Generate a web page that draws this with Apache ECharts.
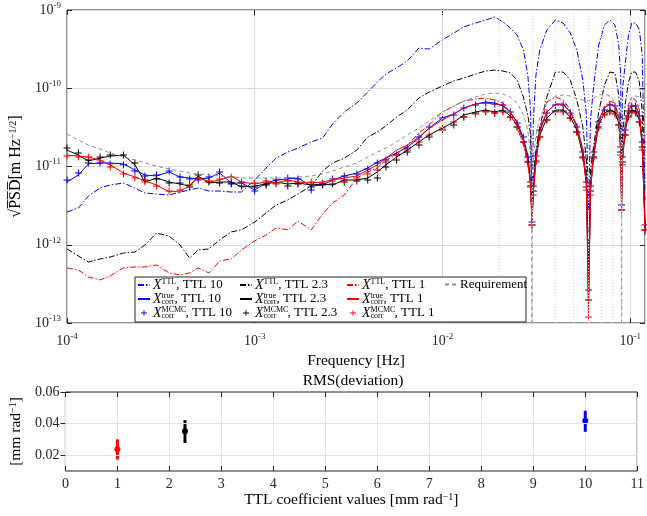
<!DOCTYPE html>
<html><head><meta charset="utf-8">
<script src="https://cdn.jsdelivr.net/npm/echarts@6/dist/echarts.min.js"></script>
<style>html,body{margin:0;padding:0;background:#fff}#c{width:647px;height:516px}</style>
</head><body><div id="c"></div>
<script>
// ---------- data ----------
const freq = [1.0e-4,1.15e-4,1.3e-4,1.5e-4,1.7e-4,2.0e-4,2.3e-4,2.6e-4,3.0e-4,3.5e-4,
4.0e-4,4.5e-4,5.0e-4,5.7e-4,6.5e-4,7.5e-4,8.5e-4,1.0e-3,1.15e-3,1.3e-3,
1.5e-3,1.7e-3,2.0e-3,2.3e-3,2.6e-3,3.0e-3,3.5e-3,4.0e-3,4.5e-3,5.0e-3,
5.7e-3,6.5e-3,7.5e-3,8.5e-3,1.0e-2,1.15e-2,1.3e-2,1.5e-2,1.7e-2,1.9e-2,
2.1e-2,2.3e-2,2.5e-2,2.7e-2,2.85e-2,2.95e-2,3.0e-2,3.05e-2,3.15e-2,3.3e-2,
3.6e-2,4.0e-2,4.4e-2,4.8e-2,5.2e-2,5.6e-2,5.85e-2,6.0e-2,6.15e-2,6.4e-2,
6.8e-2,7.3e-2,7.8e-2,8.3e-2,8.7e-2,8.9e-2,9.0e-2,9.1e-2,9.4e-2,9.8e-2,
1.02e-1,1.07e-1,1.12e-1,1.16e-1,1.2e-1];

const xTTL_10 = [2.62e-12,2.95e-12,4.20e-12,5.31e-12,5.81e-12,6.15e-12,5.31e-12,4.58e-12,4.45e-12,4.32e-12,
4.72e-12,5.01e-12,5.31e-12,4.86e-12,4.86e-12,4.72e-12,4.72e-12,6.72e-12,9.57e-12,1.28e-11,
1.53e-11,1.72e-11,2.06e-11,2.31e-11,3.49e-11,4.97e-11,6.48e-11,8.95e-11,1.20e-10,1.52e-10,
1.82e-10,2.23e-10,3.27e-10,3.17e-10,4.14e-10,5.08e-10,6.07e-10,6.82e-10,7.45e-10,8.14e-10,
7.03e-10,5.89e-10,4.79e-10,3.08e-10,1.48e-10,5.27e-11,2.40e-12,3.93e-11,1.48e-10,3.08e-10,
5.55e-10,7.45e-10,6.82e-10,5.08e-10,3.08e-10,1.27e-10,4.55e-11,2.78e-12,3.93e-11,1.10e-10,
3.57e-10,6.43e-10,7.45e-10,6.43e-10,3.57e-10,1.48e-10,6.72e-12,9.50e-11,1.98e-10,4.79e-10,
6.82e-10,6.82e-10,5.55e-10,2.66e-10,3.73e-12];

const xTTL_23 = [8.83e-13,7.18e-13,6.02e-13,6.58e-13,6.97e-13,7.85e-13,8.07e-13,9.93e-13,1.41e-12,1.29e-12,
9.93e-13,6.77e-13,8.57e-13,8.83e-13,1.15e-12,1.46e-12,1.55e-12,1.95e-12,2.55e-12,3.22e-12,
3.73e-12,4.45e-12,5.63e-12,8.76e-12,1.11e-11,1.28e-11,1.62e-11,2.38e-11,2.76e-11,3.30e-11,
4.29e-11,5.27e-11,7.50e-11,8.95e-11,1.07e-10,1.24e-10,1.35e-10,1.52e-10,1.66e-10,1.71e-10,
1.66e-10,1.57e-10,1.27e-10,7.73e-11,4.55e-11,2.53e-11,1.95e-12,6.72e-12,1.62e-11,3.20e-11,
7.73e-11,1.61e-10,1.61e-10,1.27e-10,7.08e-11,3.20e-11,1.21e-11,4.76e-13,9.02e-12,1.88e-11,
4.97e-11,1.10e-10,1.61e-10,1.57e-10,8.20e-11,3.39e-11,3.73e-12,2.18e-11,6.11e-11,1.20e-10,
1.61e-10,1.61e-10,1.20e-10,4.97e-11,1.55e-12];

const xTTL_1 = [5.05e-13,4.76e-13,3.87e-13,3.55e-13,3.99e-13,5.05e-13,5.20e-13,5.20e-13,5.51e-13,4.36e-13,
4.11e-13,4.36e-13,5.05e-13,4.36e-13,6.20e-13,6.58e-13,8.57e-13,1.12e-12,1.33e-12,1.64e-12,
1.55e-12,2.01e-12,1.55e-12,2.47e-12,3.42e-12,4.32e-12,7.13e-12,8.51e-12,9.57e-12,1.21e-11,
1.40e-11,1.88e-11,2.68e-11,3.39e-11,4.97e-11,5.93e-11,6.87e-11,7.29e-11,7.50e-11,7.08e-11,
6.48e-11,4.97e-11,3.20e-11,1.88e-11,1.05e-11,5.81e-12,1.79e-12,5.01e-12,1.21e-11,2.93e-11,
6.67e-11,7.73e-11,7.08e-11,5.27e-11,3.10e-11,1.62e-11,6.72e-12,1.97e-13,5.81e-12,1.40e-11,
3.39e-11,5.93e-11,6.87e-11,6.48e-11,4.17e-11,1.88e-11,3.22e-12,1.21e-11,2.93e-11,6.11e-11,
7.50e-11,7.08e-11,5.27e-11,2.18e-11,1.33e-12];

const trueCorr_10 = [6.34e-12,7.79e-12,1.08e-11,1.11e-11,1.11e-11,1.08e-11,9.02e-12,7.79e-12,7.56e-12,8.51e-12,
7.34e-12,7.13e-12,6.92e-12,7.13e-12,8.26e-12,6.15e-12,6.15e-12,5.01e-12,6.15e-12,6.72e-12,
6.92e-12,7.13e-12,5.63e-12,5.80e-12,6.72e-12,7.56e-12,8.26e-12,9.57e-12,1.14e-11,1.28e-11,
1.49e-11,1.77e-11,2.31e-11,3.10e-11,4.17e-11,4.69e-11,5.59e-11,6.29e-11,6.67e-11,6.48e-11,
5.93e-11,4.97e-11,3.70e-11,2.31e-11,1.40e-11,6.72e-12,2.07e-12,5.80e-12,1.40e-11,2.93e-11,
4.97e-11,6.29e-11,6.29e-11,4.97e-11,3.39e-11,1.62e-11,6.72e-12,1.97e-13,5.80e-12,1.62e-11,
3.93e-11,5.59e-11,6.29e-11,5.93e-11,4.17e-11,1.88e-11,3.73e-12,1.40e-11,3.10e-11,5.27e-11,
5.93e-11,5.93e-11,4.55e-11,2.18e-11,1.79e-12];

const mcmcCorr_10 = [6.72e-12,8.26e-12,1.11e-11,1.11e-11,1.08e-11,1.05e-11,8.76e-12,7.56e-12,7.79e-12,8.76e-12,
7.34e-12,6.92e-12,6.72e-12,7.34e-12,8.51e-12,5.97e-12,6.34e-12,4.86e-12,5.97e-12,6.72e-12,
7.13e-12,6.92e-12,5.01e-12,5.97e-12,6.92e-12,7.56e-12,8.02e-12,9.29e-12,1.11e-11,1.21e-11,
1.40e-11,1.72e-11,2.38e-11,3.20e-11,4.17e-11,4.55e-11,5.59e-11,6.11e-11,6.48e-11,6.29e-11,
6.11e-11,4.97e-11,3.60e-11,2.38e-11,1.32e-11,6.34e-12,1.95e-12,5.63e-12,1.36e-11,2.93e-11,
4.83e-11,6.11e-11,6.11e-11,4.83e-11,3.20e-11,1.53e-11,6.34e-12,2.64e-13,5.63e-12,1.53e-11,
3.70e-11,5.27e-11,6.11e-11,5.93e-11,4.17e-11,1.77e-11,3.22e-12,1.32e-11,2.93e-11,5.12e-11,
5.93e-11,5.93e-11,4.42e-11,2.06e-11,1.79e-12];

const trueCorr_23 = [1.62e-11,1.40e-11,1.18e-11,1.28e-11,1.36e-11,1.40e-11,1.05e-11,6.34e-12,7.13e-12,6.34e-12,
5.97e-12,5.63e-12,7.56e-12,6.15e-12,6.34e-12,6.34e-12,5.47e-12,5.63e-12,5.97e-12,6.34e-12,
5.97e-12,6.15e-12,5.80e-12,5.97e-12,5.80e-12,6.72e-12,6.72e-12,7.13e-12,8.51e-12,1.05e-11,
1.32e-11,1.62e-11,2.06e-11,2.53e-11,3.10e-11,3.70e-11,4.55e-11,4.97e-11,5.27e-11,4.97e-11,
5.27e-11,4.42e-11,3.39e-11,2.18e-11,1.21e-11,5.80e-12,1.95e-12,5.01e-12,1.21e-11,2.53e-11,
4.17e-11,5.27e-11,5.27e-11,4.29e-11,2.93e-11,1.40e-11,5.80e-12,2.64e-13,5.01e-12,1.40e-11,
3.39e-11,4.83e-11,5.27e-11,4.97e-11,3.60e-11,1.62e-11,3.22e-12,1.21e-11,2.76e-11,4.55e-11,
5.27e-11,5.12e-11,3.93e-11,1.88e-11,1.79e-12];

const mcmcCorr_23 = [1.72e-11,1.49e-11,1.21e-11,1.32e-11,1.40e-11,1.40e-11,1.11e-11,6.72e-12,6.92e-12,6.15e-12,
6.15e-12,5.47e-12,7.79e-12,6.34e-12,6.15e-12,6.15e-12,5.63e-12,5.47e-12,5.80e-12,6.15e-12,
5.63e-12,5.97e-12,5.47e-12,5.80e-12,5.97e-12,6.34e-12,6.53e-12,6.72e-12,7.13e-12,9.85e-12,
1.21e-11,1.53e-11,1.88e-11,2.38e-11,2.93e-11,3.39e-11,4.29e-11,4.83e-11,5.12e-11,4.83e-11,
5.12e-11,4.29e-11,3.20e-11,2.06e-11,1.14e-11,5.63e-12,1.79e-12,4.86e-12,1.18e-11,2.38e-11,
3.93e-11,5.12e-11,5.12e-11,4.17e-11,2.76e-11,1.32e-11,5.47e-12,1.97e-13,4.86e-12,1.32e-11,
3.20e-11,4.69e-11,5.12e-11,4.83e-11,3.39e-11,1.53e-11,2.78e-12,1.14e-11,2.53e-11,4.42e-11,
5.12e-11,4.97e-11,3.70e-11,1.77e-11,1.54e-12];

const trueCorr_1 = [1.40e-11,1.36e-11,1.32e-11,1.21e-11,1.05e-11,8.26e-12,7.34e-12,6.53e-12,5.80e-12,4.72e-12,
4.86e-12,5.63e-12,7.34e-12,6.34e-12,6.72e-12,7.56e-12,6.34e-12,5.97e-12,6.34e-12,6.15e-12,
6.72e-12,6.34e-12,6.15e-12,6.34e-12,6.72e-12,7.13e-12,7.56e-12,9.02e-12,1.05e-11,1.28e-11,
1.62e-11,1.88e-11,2.38e-11,3.10e-11,3.93e-11,4.69e-11,5.59e-11,6.29e-11,6.48e-11,6.29e-11,
6.11e-11,4.97e-11,3.60e-11,2.18e-11,1.21e-11,5.80e-12,1.79e-12,4.32e-12,1.21e-11,2.76e-11,
4.97e-11,6.29e-11,6.11e-11,4.97e-11,3.20e-11,1.53e-11,5.80e-12,1.19e-13,5.01e-12,1.53e-11,
3.70e-11,5.59e-11,6.29e-11,5.93e-11,4.17e-11,1.62e-11,2.78e-12,1.21e-11,2.93e-11,5.27e-11,
6.11e-11,5.93e-11,4.42e-11,1.88e-11,1.54e-12];

const mcmcCorr_1 = [1.36e-11,1.32e-11,1.32e-11,1.18e-11,9.85e-12,8.02e-12,7.13e-12,6.34e-12,5.63e-12,4.86e-12,
5.01e-12,5.80e-12,7.13e-12,6.53e-12,6.92e-12,7.34e-12,6.15e-12,6.15e-12,6.53e-12,5.97e-12,
6.53e-12,6.15e-12,6.34e-12,6.15e-12,6.53e-12,6.72e-12,7.13e-12,8.02e-12,9.02e-12,1.14e-11,
1.40e-11,1.62e-11,2.06e-11,2.53e-11,3.10e-11,3.70e-11,4.29e-11,4.69e-11,4.97e-11,4.83e-11,
4.97e-11,4.29e-11,3.20e-11,2.06e-11,1.14e-11,5.47e-12,1.79e-12,4.32e-12,1.14e-11,2.38e-11,
3.93e-11,4.97e-11,4.97e-11,4.17e-11,2.76e-11,1.28e-11,5.01e-12,1.19e-13,4.32e-12,1.28e-11,
3.10e-11,4.55e-11,4.97e-11,4.69e-11,3.39e-11,1.40e-11,2.78e-12,1.05e-11,2.53e-11,4.29e-11,
4.97e-11,4.83e-11,3.70e-11,1.62e-11,1.54e-12];

// requirement has its own frequency grid (extra points close to its notches)
const reqFreq = [1.0e-4,1.15e-4,1.3e-4,1.5e-4,1.7e-4,2.0e-4,2.3e-4,2.6e-4,3.0e-4,3.5e-4,
4.0e-4,4.5e-4,5.0e-4,5.7e-4,6.5e-4,7.5e-4,8.5e-4,1.0e-3,1.15e-3,1.3e-3,
1.5e-3,1.7e-3,2.0e-3,2.3e-3,2.6e-3,3.0e-3,3.5e-3,4.0e-3,4.5e-3,5.0e-3,
5.7e-3,6.5e-3,7.5e-3,8.5e-3,1.0e-2,1.15e-2,1.3e-2,1.5e-2,1.7e-2,1.9e-2,
2.1e-2,2.3e-2,2.5e-2,2.7e-2,2.85e-2,2.95e-2,2.99e-2,3.0e-2,3.01e-2,3.05e-2,3.15e-2,3.3e-2,
3.6e-2,4.0e-2,4.4e-2,4.8e-2,5.2e-2,5.6e-2,5.85e-2,6.0e-2,6.15e-2,6.4e-2,
6.8e-2,7.3e-2,7.8e-2,8.3e-2,8.7e-2,8.9e-2,8.98e-2,9.0e-2,9.02e-2,9.1e-2,9.4e-2,9.8e-2,
1.02e-1,1.07e-1,1.12e-1,1.16e-1,1.2e-1];
const requirement = [2.60e-11,2.18e-11,1.88e-11,1.67e-11,1.49e-11,1.32e-11,1.21e-11,1.11e-11,1.01e-11,9.29e-12,
8.76e-12,8.26e-12,8.02e-12,7.79e-12,7.56e-12,7.34e-12,7.13e-12,7.13e-12,7.13e-12,7.13e-12,
7.13e-12,7.34e-12,7.56e-12,8.02e-12,8.76e-12,9.85e-12,1.11e-11,1.32e-11,1.53e-11,1.72e-11,
2.06e-11,2.53e-11,3.10e-11,3.81e-11,4.97e-11,5.93e-11,6.87e-11,7.73e-11,8.44e-11,8.70e-11,
8.44e-11,7.73e-11,6.48e-11,4.55e-11,2.93e-11,1.40e-11,2.8e-12,1e-15,2.4e-12,1.21e-11,2.53e-11,4.17e-11,
6.48e-11,7.96e-11,8.20e-11,7.96e-11,7.29e-11,7.08e-11,6.87e-11,6.87e-11,7.08e-11,7.50e-11,
8.20e-11,8.44e-11,7.96e-11,6.67e-11,3.93e-11,1.88e-11,3.8e-12,1e-15,3.2e-12,1.62e-11,3.93e-11,6.48e-11,
7.73e-11,7.96e-11,7.73e-11,7.50e-11,7.08e-11];

// lower panel
const ttlCoef = [1, 2.3, 10];
const rmsDev  = [0.0238, 0.0352, 0.0418];
const rmsLow  = [0.0173, 0.0278, 0.0348];
const rmsHigh = [0.0300, 0.0422, 0.0481];
const rmsTicks = [0.02, 0.04, 0.06];

// ---------- styling ----------
const FONT = 'Liberation Serif';
const AX = '#262626';
const BLUE = '#0000ff', BLACK = '#000000', RED = '#ff0000', GRAY = '#8f8f8f';
const pointColors = [RED, BLACK, BLUE];
const DASHDOT = [6, 2, 1.5, 2];
const PLUS = 'path://M-0.14,-1L0.14,-1L0.14,-0.14L1,-0.14L1,0.14L0.14,0.14L0.14,1L-0.14,1L-0.14,0.14L-1,0.14L-1,-0.14L-0.14,-0.14Z';

const xMinor = [], yMinor = [];
for (let d = -4; d <= -2; d++) for (let m = 2; m <= 9; m++) xMinor.push(m * Math.pow(10, d));
for (let d = -13; d <= -10; d++) for (let m = 2; m <= 9; m++) yMinor.push(m * Math.pow(10, d));

const powRich = {
  b: {fontFamily: FONT, fontSize: 14, color: AX, lineHeight: 18},
  e: {fontFamily: FONT, fontSize: 9, color: AX, verticalAlign: 'top', lineHeight: 8}
};
const powLabel = v => '{b|10}{e|' + Math.round(Math.log10(v)) + '}';
const supRich = {sp: {fontFamily: FONT, fontSize: 10, color: '#000', verticalAlign: 'top', lineHeight: 9}};

const legRich = {
  n: {fontFamily: FONT, fontSize: 13, color: '#000', lineHeight: 14},
  i: {fontFamily: FONT, fontSize: 14, fontStyle: 'italic', color: '#000', lineHeight: 14},
  sp: {fontFamily: FONT, fontSize: 8, color: '#000', verticalAlign: 'top', lineHeight: 5},
  sp0: {fontFamily: FONT, fontSize: 8, color: '#000', verticalAlign: 'top', lineHeight: 5, width: 0},
  sb: {fontFamily: FONT, fontSize: 8, color: '#000', verticalAlign: 'bottom', lineHeight: 5},
  sbw: {fontFamily: FONT, fontSize: 8, color: '#000', verticalAlign: 'bottom', lineHeight: 5, width: 24}
};
const legText = {
  'ttl10': '{i|X}{sp|TTL}{n|, TTL 10}',
  'true10': '{i|X}{sp0|true}{sb|corr}{n|, TTL 10}',
  'mcmc10': '{i|X}{sp0|MCMC}{sbw|corr}{n|, TTL 10}',
  'ttl23': '{i|X}{sp|TTL}{n|, TTL 2.3}',
  'true23': '{i|X}{sp0|true}{sb|corr}{n|, TTL 2.3}',
  'mcmc23': '{i|X}{sp0|MCMC}{sbw|corr}{n|, TTL 2.3}',
  'ttl1': '{i|X}{sp|TTL}{n|, TTL 1}',
  'true1': '{i|X}{sp0|true}{sb|corr}{n|, TTL 1}',
  'mcmc1': '{i|X}{sp0|MCMC}{sbw|corr}{n|, TTL 1}',
  'req': '{n|Requirement}'
};
const hideDot = {opacity: 0, color: 'rgba(0,0,0,0)', borderWidth: 0};

function pairs(xs, vals) { return xs.map((f, i) => [f, vals[i]]); }
function lineS(name, xs, vals, color, type) {
  return {name, type: 'line', xAxisIndex: 0, yAxisIndex: 0, data: pairs(xs, vals),
    symbol: 'none', showSymbol: false, clip: true, silent: true,
    lineStyle: {color, width: 1, type}, itemStyle: {color}};
}
function markS(name, vals, color) {
  return {name, type: 'scatter', xAxisIndex: 0, yAxisIndex: 0, data: pairs(freq, vals),
    symbol: PLUS, symbolSize: 7, clip: true, silent: true, itemStyle: {color, opacity: 1}};
}
function legendCol(left, items) {
  return {left, top: 278, orient: 'vertical', itemGap: 0, itemWidth: 12, itemHeight: 6,
    padding: 0, z: 60, selectedMode: false,
    data: items.map(n => (n.indexOf('mcmc') === 0 ? {name: n} : {name: n, itemStyle: hideDot})),
    formatter: n => legText[n], textStyle: {rich: legRich, padding: [0, 0, 0, -2]}};
}
function mirrorAxis(base) { return Object.assign({axisLabel: {show: false}, splitLine: {show: false}, axisLine: {show: false},
  axisTick: {inside: true, length: 5, lineStyle: {color: AX}}, name: ''}, base); }

const option = {
  animation: false,
  backgroundColor: '#fff',
  textStyle: {fontFamily: FONT},
  grid: [
    {left: 67, right: 2, top: 10, height: 313, show: true, borderColor: AX, borderWidth: 1},
    {left: 63, right: 3, top: 392, height: 79, show: true, borderColor: AX, borderWidth: 1}
  ],
  xAxis: [
    {gridIndex: 0, type: 'log', logBase: 10, min: 1e-4, max: 0.12,
      axisLine: {show: false}, axisTick: {inside: true, length: 5, lineStyle: {color: AX}},
      axisLabel: {formatter: powLabel, rich: powRich, margin: 9, showMaxLabel: false},
      splitLine: {show: true, lineStyle: {color: '#dcdcdc', width: 1}},
      name: 'Frequency [Hz]', nameLocation: 'middle', nameGap: 25,
      nameTextStyle: {fontFamily: FONT, fontSize: 15.5, color: '#000'}},
    {gridIndex: 1, type: 'value', min: 0, max: 11, interval: 1,
      axisLine: {show: false}, axisTick: {inside: true, length: 5, lineStyle: {color: AX}},
      axisLabel: {fontFamily: FONT, fontSize: 14, color: AX, margin: 6},
      splitLine: {show: true, lineStyle: {color: '#e3e3e3', width: 1}},
      name: 'TTL coefficient values [mm rad{sp|−1}]', nameLocation: 'middle', nameGap: 21,
      nameTextStyle: {fontFamily: FONT, fontSize: 15.5, color: '#000', rich: supRich}},
    mirrorAxis({gridIndex: 0, type: 'log', logBase: 10, min: 1e-4, max: 0.12, position: 'top'}),
    mirrorAxis({gridIndex: 1, type: 'value', min: 0, max: 11, interval: 1, position: 'top'})
  ],
  yAxis: [
    {gridIndex: 0, type: 'log', logBase: 10, min: 1e-13, max: 1e-9,
      axisLine: {show: false}, axisTick: {inside: true, length: 5, lineStyle: {color: AX}},
      axisLabel: {formatter: powLabel, rich: powRich, margin: 6},
      splitLine: {show: true, lineStyle: {color: '#dcdcdc', width: 1}},
      name: '√P\u0305S\u0305D\u0305[m Hz{sp|−1/2}]', nameLocation: 'middle', nameGap: 34, nameRotate: 90,
      nameTextStyle: {fontFamily: FONT, fontSize: 16, color: '#000', rich: supRich}},
    {gridIndex: 1, type: 'value', min: 0.01, max: 0.06, interval: 0.01,
      axisLine: {show: false},
      axisTick: {inside: true, length: 5, lineStyle: {color: AX}, customValues: rmsTicks},
      axisLabel: {fontFamily: FONT, fontSize: 14, color: AX, margin: 6, customValues: rmsTicks,
        formatter: v => (Math.round(v * 100) % 2 === 0 ? v.toFixed(2) : '')},
      splitLine: {show: false},
      name: '[mm rad{sp|−1}]', nameLocation: 'middle', nameGap: 36, nameRotate: 90,
      nameTextStyle: {fontFamily: FONT, fontSize: 15.5, color: '#000', rich: supRich}},
    mirrorAxis({gridIndex: 0, type: 'log', logBase: 10, min: 1e-13, max: 1e-9, position: 'right'}),
    mirrorAxis({gridIndex: 1, type: 'value', min: 0.01, max: 0.06, interval: 0.01, position: 'right',
      axisTick: {inside: true, length: 5, lineStyle: {color: AX}, customValues: rmsTicks}})
  ],
  legend: [
    legendCol(137, ['ttl10', 'true10', 'mcmc10']),
    legendCol(239, ['ttl23', 'true23', 'mcmc23']),
    legendCol(346, ['ttl1', 'true1', 'mcmc1']),
    legendCol(444, ['req'])
  ],
  graphic: {elements: [
    {type: 'rect', z: 50, shape: {x: 135, y: 277, width: 391, height: 45},
      style: {fill: '#fff', stroke: AX, lineWidth: 1}},
    {type: 'text', z: 50, x: 353, y: 381,
      style: {text: 'RMS(deviation)', font: '15.5px "Liberation Serif"', fill: '#000',
        align: 'center', verticalAlign: 'middle', textAlign: 'center', textVerticalAlign: 'middle'}}
  ]},
  series: [
    {type: 'line', xAxisIndex: 0, yAxisIndex: 0, data: [], z: 1, silent: true,
      markLine: {silent: true, symbol: ['none', 'none'], label: {show: false}, animation: false,
        lineStyle: {color: '#d2d2d2', type: [1, 2], width: 1},
        data: xMinor.map(v => ({xAxis: v})).concat(yMinor.map(v => ({yAxis: v})))}},
    {type: 'line', xAxisIndex: 1, yAxisIndex: 1, data: [], z: 1, silent: true,
      markLine: {silent: true, symbol: ['none', 'none'], label: {show: false}, animation: false,
        lineStyle: {color: '#e3e3e3', type: 'solid', width: 1},
        data: [{yAxis: 0.02}, {yAxis: 0.04}]}},
    lineS('ttl10', freq, xTTL_10, BLUE, DASHDOT),
    lineS('true10', freq, trueCorr_10, BLUE, 'solid'),
    markS('mcmc10', mcmcCorr_10, BLUE),
    lineS('ttl23', freq, xTTL_23, BLACK, DASHDOT),
    lineS('true23', freq, trueCorr_23, BLACK, 'solid'),
    markS('mcmc23', mcmcCorr_23, BLACK),
    lineS('ttl1', freq, xTTL_1, RED, DASHDOT),
    lineS('true1', freq, trueCorr_1, RED, 'solid'),
    markS('mcmc1', mcmcCorr_1, RED),
    lineS('req', reqFreq, requirement, GRAY, [4, 3]),
    {type: 'custom', xAxisIndex: 1, yAxisIndex: 1, silent: true,
      data: ttlCoef.map((x, i) => [x, rmsDev[i], rmsLow[i], rmsHigh[i]]),
      encode: {x: 0, y: [1, 2, 3]},
      renderItem: (params, api) => {
        const c = pointColors[params.dataIndex];
        const p0 = api.coord([api.value(0), api.value(2)]);
        const p1 = api.coord([api.value(0), api.value(3)]);
        const pc = api.coord([api.value(0), api.value(1)]);
        return {type: 'group', children: [
          {type: 'line', shape: {x1: p0[0], y1: p0[1], x2: p1[0], y2: p1[1]}, style: {stroke: c, lineWidth: 3}},
          {type: 'circle', shape: {cx: pc[0], cy: pc[1], r: 3}, style: {fill: c}}
        ]};
      }}
  ]
};
const chart = echarts.init(document.getElementById('c'), null, {renderer: 'canvas'});
chart.setOption(option);
</script>
</body></html>
